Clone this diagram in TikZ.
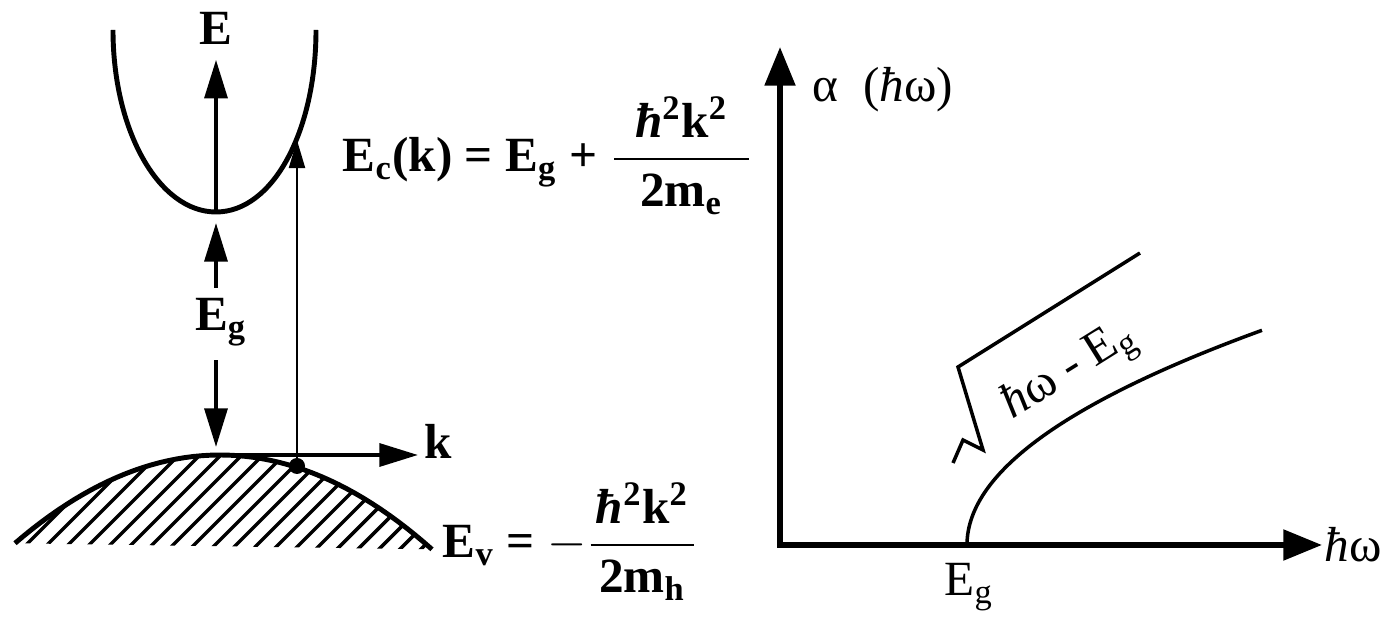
\documentclass[tikz,border=0pt]{standalone}
\usepackage{amsmath}
\usepackage{fontspec}
\setmainfont{Liberation Serif}
\usepackage{tikz}
\usetikzlibrary{arrows.meta,positioning,calc}

\begin{document}
\begin{tikzpicture}[band/.style={line width=1.4pt},
                    ax/.style={line width=1.1pt,-{Triangle[length=11pt,width=6.5pt]}},
                    trans/.style={line width=0.8pt,-{Triangle[length=8pt,width=4.5pt]}},
                    lab/.style={font=\fontsize{14}{17}\selectfont\bfseries,inner sep=0pt},
                    rlab/.style={font=\fontsize{14}{17}\selectfont,inner sep=0pt}]
  \useasboundingbox (0,0) rectangle (13.86,6.21);
  \coordinate (cbmin) at (2.16,4.09);
  \coordinate (vbmax) at (2.16,1.66);
  \coordinate (kpt) at (2.97,1.55);
  \coordinate (kup) at (2.97,4.81);
  \coordinate (kend) at (4.18,1.66);
  % conduction band
  \draw[band] (1.13,5.91) .. controls (1.13,4.9) and (1.59,4.09) .. (cbmin)
              .. controls (2.73,4.09) and (3.16,4.9) .. (3.16,5.91);
  % valence band, hatched
  \begin{scope}
    \clip plot[domain=0.15:4.32,samples=50] (\x,{1.66-0.21*(\x-2.2)*(\x-2.2)}) -- cycle;
    \foreach \i in {0,...,25}
      \draw[line width=1pt] ({-0.85+0.21*\i},0.7) -- ++(1.1,1.1);
  \end{scope}
  \draw[band] plot[domain=0.15:4.32,samples=50] (\x,{1.66-0.21*(\x-2.2)*(\x-2.2)});
  \node[lab] (elab) at (2.16,5.93) {E};
  \node[lab] (eglab) at (2.21,2.99) {E\textsubscript{g}};
  \node[lab,anchor=base west] (klab) at (4.24,1.62) {k};
  \draw[ax,shorten >=0.15cm] (cbmin) -- (elab.south);
  \draw[ax,shorten <=0.1cm,shorten >=0.11cm] (eglab.north -| cbmin) -- (cbmin);
  \draw[ax,shorten <=0.14cm,shorten >=0.08cm] (eglab.south -| vbmax) -- (vbmax);
  \draw[ax] (vbmax) -- (kend);
  \draw[trans] (kpt) -- (kup);
  \fill (kpt) circle (0.08);
  \node[lab,anchor=base west] (ec) at (3.42,4.49)
       {E\textsubscript{c}(k) = E\textsubscript{g} + $\dfrac{\text{\hspace{6pt}\textit{ħ}\textsuperscript{2}k\textsuperscript{2}\hspace{6pt}}}{\text{2m\textsubscript{e}}}$};
  \node[lab,anchor=base west] (ev) at (4.42,0.63)
       {E\textsubscript{v} = $-\dfrac{\text{\hspace{1.5pt}\textit{ħ}\textsuperscript{2}k\textsuperscript{2}\hspace{1.5pt}}}{\text{2m\textsubscript{h}}}$};
  % absorption edge
  \coordinate (o) at (7.80,0.76);
  \coordinate (ytip) at (7.80,5.74);
  \coordinate (xtip) at (13.22,0.76);
  \coordinate (egpt) at (9.67,0.76);
  \draw[line width=1.6pt,{Triangle[length=11pt,width=8.5pt]}-{Triangle[length=11pt,width=8.5pt]}] (ytip) -- (o) -- (xtip);
  \node[rlab,anchor=west] (alab) at (8.12,5.31) {α\enspace(\textit{ħ}ω)};
  \node[rlab,anchor=west,inner sep=0.5pt] (wlab) at (xtip) {\textit{ħ}ω};
  \node[rlab,anchor=north] (eglab2) at ($(egpt)+(0.02,-0.18)$) {E\textsubscript{g}};
  \draw[line width=1pt] plot[domain=0:1.7176,samples=40,smooth] ({9.67+\x*\x},{0.76+1.25*\x});
  \draw[line width=1pt,line join=miter] (9.53,1.58) -- (9.63,1.81) -- (9.83,1.71) -- (9.58,2.54) -- (11.40,3.68);
  \node[rlab,rotate=32] (sqlab) at (10.70,2.49) {\textit{ħ}ω - E\textsubscript{g}};
\end{tikzpicture}
\end{document}
